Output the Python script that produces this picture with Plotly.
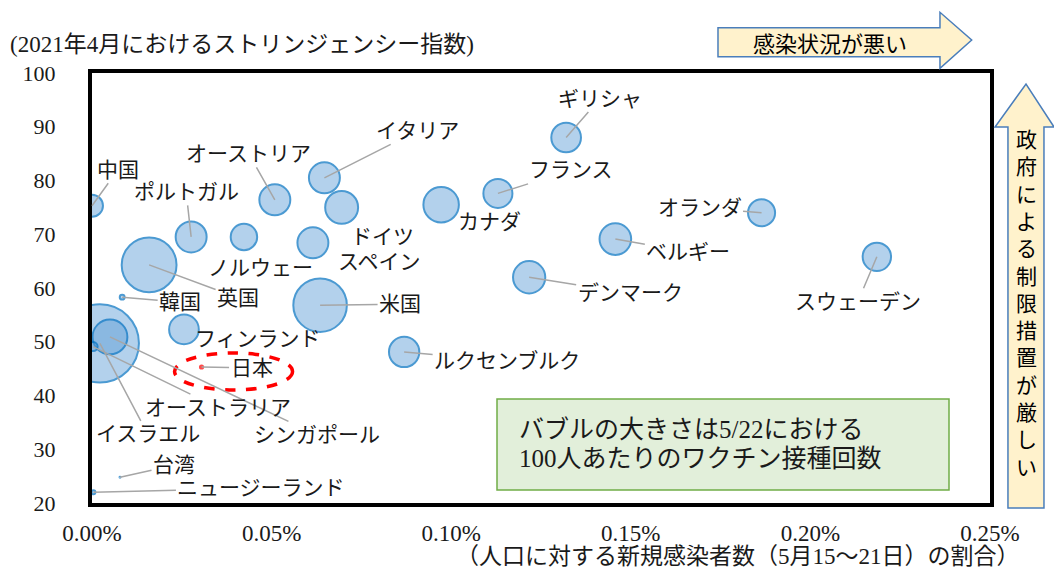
import plotly.graph_objects as go

# ==========================================================
# DATA
# ==========================================================

countries = [
    "中国", "ポルトガル", "ノルウェー", "オーストリア", "イタリア",
    "ドイツ", "スペイン", "英国", "韓国", "米国",
    "フィンランド", "カナダ", "フランス", "ルクセンブルク", "日本",
    "オランダ", "ベルギー", "デンマーク", "スウェーデン", "ギリシャ",
    "イスラエル", "シンガポール", "オーストラリア", "台湾", "ニュージーランド",
]

# 人口に対する新規感染者数（5月15～21日）の割合 [%]
new_cases_pct = [
    0.0000, 0.0276, 0.0423, 0.0509, 0.0647,
    0.0695, 0.0615, 0.0159, 0.0084, 0.0635,
    0.0256, 0.0972, 0.1130, 0.0869, 0.0305,
    0.1864, 0.1457, 0.1217, 0.2185, 0.1320,
    0.0022, 0.0050, 0.0003, 0.0078, 0.0004,
]

# 2021年4月におけるストリンジェンシー指数
stringency = [
    75.3, 69.5, 69.5, 76.4, 80.5,
    75.0, 68.4, 64.3, 58.3, 56.8,
    52.3, 75.5, 77.6, 48.1, 45.3,
    74.0, 69.1, 62.0, 65.8, 88.0,
    49.7, 50.9, 49.1, 24.8, 22.0,
]

# 5/22における100人あたりのワクチン接種回数
vaccinations = [
    34, 48, 41, 48, 48,
    51, 48, 85, 7.5, 83,
    46, 55, 45, 47, 5,
    42, 49, 50, 44, 46,
    121, 54, 14, 1.5, 6,
]

x_ticks = [0.00, 0.05, 0.10, 0.15, 0.20, 0.25]
x_tick_labels = ["0.00%", "0.05%", "0.10%", "0.15%", "0.20%", "0.25%"]
y_ticks = [20, 30, 40, 50, 60, 70, 80, 90, 100]

# ==========================================================
# THEME
# ==========================================================

SERIF = "Liberation Serif, Noto Sans CJK JP"
GOTHIC = "Noto Sans CJK JP"
TEXT = "#1a1a1a"
BUBBLE_FILL = "rgba(91,155,213,0.65)"
BUBBLE_EDGE = "#0070C0"
LEADER = "#A6A6A6"
ARROW_FILL = "#FFF2CC"
ARROW_EDGE = "#4A7EBB"

# label placement: (dx, dy down, leader line) in pixels from the bubble centre
LABEL_POS = {
    "中国": (26, -36, True),
    "ポルトガル": (-5, -45, True),
    "ノルウェー": (17, 31, False),
    "オーストリア": (-26, -46, True),
    "イタリア": (93, -47, True),
    "ドイツ": (41, 30, False),
    "スペイン": (67, 19, False),
    "英国": (89, 33, True),
    "韓国": (58, 5, True),
    "米国": (80, -1, True),
    "フィンランド": (74, 10, False),
    "カナダ": (48, 17, False),
    "フランス": (73, -23, True),
    "ルクセンブルク": (103, 9, True),
    "日本": (50, 1, True),
    "オランダ": (-62, -5, True),
    "ベルギー": (73, 13, True),
    "デンマーク": (101, 16, True),
    "スウェーデン": (-19, 45, True),
    "ギリシャ": (34, -39, True),
    "イスラエル": (48, 91, True),
    "シンガポール": (207, 98, True),
    "オーストラリア": (125, 61, True),
    "台湾": (54, -12, True),
    "ニュージーランド": (168, -4, True),
}

# plot area in pixels
L, R, T, B = 92, 990, 73, 503
W, H = 1054, 572


def px_x(p):
    return (p - L) / (R - L)


def px_y(p):
    return (B - p) / (B - T)


def path_from(points):
    return "M " + " L ".join(f"{px_x(x):.4f},{px_y(y):.4f}" for x, y in points) + " Z"


# ==========================================================
# FIGURE
# ==========================================================

fill_colors = ["red" if c == "日本" else BUBBLE_FILL for c in countries]
edge_colors = ["red" if c == "日本" else BUBBLE_EDGE for c in countries]

fig = go.Figure()

fig.add_trace(
    go.Scatter(
        x=new_cases_pct,
        y=stringency,
        mode="markers",
        text=countries,
        marker=dict(
            size=vaccinations,
            sizemode="diameter",
            sizeref=1.55,
            color=fill_colors,
            line=dict(color=edge_colors, width=2),
        ),
        cliponaxis=True,
        hovertemplate="%{text}<br>%{x:.3f}%<br>%{y:.1f}<extra></extra>",
    )
)

annotations = []

for name, xv, yv in zip(countries, new_cases_pct, stringency):
    dx, dy, leader = LABEL_POS[name]
    if leader:
        annotations.append(dict(
            x=xv, y=yv, xref="x", yref="y",
            text=name,
            showarrow=True,
            ax=dx, ay=dy,
            arrowhead=0,
            arrowwidth=1.5,
            arrowcolor=LEADER,
            font=dict(family=SERIF, size=21, color=TEXT),
        ))
    else:
        annotations.append(dict(
            x=xv, y=yv, xref="x", yref="y",
            text=name,
            showarrow=False,
            xshift=dx, yshift=-dy,
            font=dict(family=SERIF, size=21, color=TEXT),
        ))

# axis titles
annotations.append(dict(
    x=px_x(8), y=px_y(45), xref="paper", yref="paper",
    xanchor="left", yanchor="middle",
    text="(2021年4月におけるストリンジェンシー指数)",
    showarrow=False,
    font=dict(family=SERIF, size=23, color=TEXT),
))
annotations.append(dict(
    x=px_x(1022), y=px_y(556), xref="paper", yref="paper",
    xanchor="right", yanchor="middle",
    text="（人口に対する新規感染者数（5月15～21日）の割合）",
    showarrow=False,
    font=dict(family=SERIF, size=23, color=TEXT),
))

# bubble-size note
annotations.append(dict(
    x=px_x(517), y=px_y(429), xref="paper", yref="paper",
    xanchor="left", yanchor="middle",
    text="バブルの大きさは5/22における",
    showarrow=False,
    font=dict(family=SERIF, size=25, color=TEXT),
))
annotations.append(dict(
    x=px_x(517), y=px_y(458), xref="paper", yref="paper",
    xanchor="left", yanchor="middle",
    text="100人あたりのワクチン接種回数",
    showarrow=False,
    font=dict(family=SERIF, size=25, color=TEXT),
))

# arrow texts
annotations.append(dict(
    x=px_x(830), y=px_y(42), xref="paper", yref="paper",
    xanchor="center", yanchor="middle",
    text="感染状況が悪い",
    showarrow=False,
    font=dict(family=GOTHIC, size=22, color="black"),
))
annotations.append(dict(
    x=px_x(1026), y=px_y(302), xref="paper", yref="paper",
    xanchor="center", yanchor="middle",
    text="<br>".join("政府による制限措置が厳しい"),
    showarrow=False,
    font=dict(family=GOTHIC, size=21, color="black"),
))

shapes = [
    # horizontal arrow
    dict(
        type="path", xref="paper", yref="paper",
        path=path_from([(718, 27.7), (940, 27.7), (940, 12.3), (971.7, 40),
                        (940, 68.3), (940, 56.7), (718, 56.7)]),
        fillcolor=ARROW_FILL,
        line=dict(color=ARROW_EDGE, width=1.5),
    ),
    # vertical arrow
    dict(
        type="path", xref="paper", yref="paper",
        path=path_from([(1008, 508), (1008, 127), (995, 127), (1026, 84),
                        (1054, 127), (1044, 127), (1044, 508)]),
        fillcolor=ARROW_FILL,
        line=dict(color=ARROW_EDGE, width=1.5),
    ),
    # note box
    dict(
        type="rect", xref="paper", yref="paper",
        x0=px_x(497), x1=px_x(949), y0=px_y(490), y1=px_y(399),
        fillcolor="#E2EFDA",
        line=dict(color="#70AD47", width=1.5),
        layer="above",
    ),
]

# red dashed ellipse round Japan
jp = countries.index("日本")
shapes.append(dict(
    type="circle",
    xref="x", yref="y",
    xsizemode="pixel", ysizemode="pixel",
    xanchor=new_cases_pct[jp], yanchor=stringency[jp],
    x0=-27, x1=91, y0=-23, y1=14,
    line=dict(color="red", width=3.5, dash="dash"),
))

fig.update_layout(
    width=W,
    height=H,
    paper_bgcolor="white",
    plot_bgcolor="white",
    margin=dict(l=L, r=W - R, t=T, b=H - B),
    showlegend=False,
    shapes=shapes,
    annotations=annotations,
    font=dict(family=SERIF, size=21, color=TEXT),
)

fig.update_xaxes(
    range=[0, 0.25],
    tickvals=x_ticks,
    ticktext=x_tick_labels,
    showgrid=False,
    zeroline=False,
    showline=True,
    linecolor="black",
    linewidth=4,
    mirror=True,
    ticks="",
    ticklabelstandoff=6,
    tickfont=dict(family=SERIF, size=23, color=TEXT),
)

fig.update_yaxes(
    range=[20, 100],
    tickvals=y_ticks,
    showgrid=False,
    zeroline=False,
    showline=True,
    linecolor="black",
    linewidth=4,
    mirror=True,
    ticks="",
    ticklabelstandoff=28,
    tickfont=dict(family=SERIF, size=22, color=TEXT),
)

# the page's default body margin would push the chart off by 8px
fig.write_html(
    "out.html",
    config={"displayModeBar": False},
    post_script="document.body.style.margin = '0';",
)
